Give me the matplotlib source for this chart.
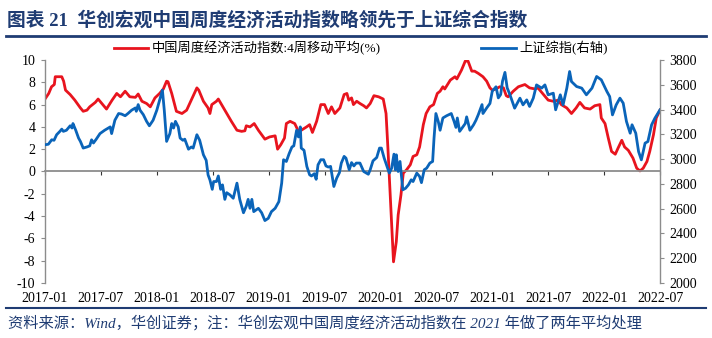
import matplotlib.pyplot as plt
from matplotlib.lines import Line2D
from matplotlib.transforms import blended_transform_factory

plt.rcParams['font.family'] = ['Liberation Serif', 'Noto Sans CJK SC']
plt.rcParams['axes.unicode_minus'] = False

# 月份偏移（以 2017-01 为 0）
red_t = [0, 0.4, 0.7, 1.0, 1.1, 1.8, 2.0, 2.2, 2.7, 3.2, 3.8, 4.1, 4.5, 4.8, 5.4, 5.7,
         6.1, 6.6, 7.2, 7.7, 8.1, 8.6, 9.1, 9.7, 10.0, 10.4, 10.9, 11.3, 11.8, 12.3, 12.7,
         13.05, 13.2, 13.6, 14.1, 14.7, 15.2, 15.7, 16.3, 16.5, 17.0, 17.5, 17.7, 17.9,
         18.4, 18.6, 18.95, 19.5, 20.0, 20.6, 21.1, 21.45, 21.6, 22.0, 22.45, 22.9, 23.6,
         24.1, 24.7, 24.96, 25.3, 25.7, 25.9, 26.3, 26.8, 27.2, 27.5, 28.07, 28.4, 28.7,
         29.15, 29.6, 30.0, 30.4, 30.75, 31.1, 31.65, 32.1, 32.4, 32.6, 32.9, 33.1, 33.45,
         33.8, 34.2, 34.5, 34.9, 35.3, 35.8, 36.3, 36.6, 36.8, 37.1, 37.4, 37.7, 37.9,
         38.2, 38.45, 38.8, 39.2, 39.5, 39.9, 40.2, 40.6, 40.9, 41.3, 41.7, 42.1, 42.4,
         42.7, 42.9, 43.5, 44.0, 44.2, 44.7, 45.1, 45.4, 45.8, 46.1, 46.5, 47.0, 47.4,
         47.75, 48.0, 48.4, 48.8, 49.2, 49.5, 49.7, 50.25, 50.8, 51.5, 52.0, 52.6, 52.9,
         53.5, 54.0, 54.55, 55.1, 55.4, 56.0, 56.5, 57.0, 57.4, 57.9, 58.5, 59.0, 59.55,
         59.7, 60.1, 60.45, 60.8, 61.2, 61.5, 61.9, 62.2, 62.6, 63.1, 63.5, 63.85, 64.2,
         64.6, 64.9, 65.3, 65.6, 66.0]
red_v = [6.5, 7.0, 7.6, 7.8, 8.5, 8.5, 8.1, 7.3, 6.9, 6.4, 5.7, 5.4, 5.5, 5.8, 6.2, 6.5,
         6.1, 5.6, 6.4, 7.0, 6.7, 7.2, 6.7, 6.65, 6.95, 6.3, 6.1, 5.8, 6.6, 7.0, 7.4,
         8.1, 8.05, 7.0, 5.4, 5.2, 5.5, 6.4, 7.5, 7.3, 6.3, 5.7, 5.2, 6.0,
         6.3, 6.5, 6.0, 5.2, 4.5, 3.7, 3.6, 3.65, 4.1, 4.0, 4.3, 3.7, 2.9,
         3.1, 3.2, 2.0, 2.4, 3.0, 4.3, 4.5, 4.3, 3.6, 3.7, 4.0, 4.2, 3.5,
         4.5, 6.0, 6.0, 5.2, 5.8, 5.2, 5.7, 6.9, 7.0, 6.4, 6.6, 6.0, 6.3,
         6.1, 5.9, 5.7, 6.1, 6.8, 6.7, 6.5, 5.2, 2.1, -3.0, -8.1, -6.3, -3.9,
         -2.1, -0.15, 0.15, 0.6, 1.35, 1.5, 2.2, 4.2, 5.2, 5.8, 6.0, 7.0, 7.2,
         7.6, 7.4, 8.2, 8.5, 8.3, 9.1, 9.9, 9.9, 9.0, 9.0, 8.8, 8.5, 8.1,
         7.5, 7.3, 7.4, 7.6, 7.5, 6.8, 6.7, 7.2, 7.6, 7.8, 7.5, 7.4, 7.5,
         6.9, 6.4, 6.3, 6.4, 6.0, 5.7, 5.2, 5.7, 6.2, 5.7, 5.6, 5.9, 6.0,
         4.8, 4.3, 3.0, 1.8, 1.55, 2.1, 2.8, 2.2, 1.9, 1.2, 0.3, 0.05, 0.3,
         0.9, 1.8, 3.3, 4.8, 5.5]

blue_t = [0, 0.36, 0.72, 0.97, 1.25, 1.6, 1.8, 1.97, 2.3, 2.7, 2.9, 3.0, 3.3, 3.6, 3.8,
          4.1, 4.5, 4.8, 5.0, 5.2, 5.5, 5.9, 6.4, 7.0, 7.15, 7.5, 7.9, 8.2, 8.6, 8.9,
          9.3, 9.7, 9.8, 10.0, 10.2, 10.55, 10.9, 11.2, 11.6, 12.0, 12.3, 12.6, 12.8,
          13.05, 13.4, 13.6, 13.8, 14.0, 14.3, 14.5, 14.8, 15.0, 15.4, 15.7, 15.9, 16.3,
          16.6, 17.0, 17.3, 17.5, 17.7, 17.95, 18.1, 18.4, 18.6, 18.85, 19.05, 19.3,
          19.5, 19.85, 20.2, 20.6, 20.9, 21.3, 21.6, 21.8, 22.0, 22.2, 22.4, 22.9,
          23.25, 23.6, 23.96, 24.3, 24.7, 25.1, 25.4, 25.6, 25.9, 26.2, 26.5, 26.7,
          27.0, 27.2, 27.4, 27.5, 27.8, 28.1, 28.4, 28.6, 28.9, 29.1, 29.3, 29.6, 29.9,
          30.15, 30.4, 30.65, 31.0, 31.3, 31.6, 31.8, 32.1, 32.3, 32.65, 32.9, 33.15,
          33.4, 33.8, 34.2, 34.7, 34.9, 35.2, 35.6, 35.9, 36.1, 36.4, 36.7, 36.95,
          37.2, 37.45, 37.6, 37.7, 37.9, 38.1, 38.4, 38.7, 39.0, 39.3, 39.5, 39.9,
          40.2, 40.4, 40.7, 40.96, 41.3, 41.6, 41.75, 41.95, 42.2, 42.4, 42.7, 43.1,
          43.6, 43.9, 44.1, 44.25, 44.5, 44.8, 45.1, 45.25, 45.6, 46.0, 46.25, 46.5,
          46.9, 47.0, 47.4, 47.75, 48.0, 48.4, 48.65, 48.9, 49.1, 49.36, 49.6, 49.9,
          50.4, 50.97, 51.3, 51.7, 52.0, 52.4, 52.75, 53.3, 53.65, 54.0, 54.55, 54.8,
          55.3, 55.6, 56.0, 56.3, 56.5, 57.05, 57.6, 58.1, 58.7, 59.2, 59.7, 60.3,
          60.6, 60.9, 61.3, 61.7, 62.05, 62.4, 62.8, 63.0, 63.4, 63.7, 64.0, 64.4,
          64.7, 65.1, 65.45, 66.0]
blue_v = [3116, 3120, 3156, 3152, 3197, 3224, 3242, 3224, 3233, 3269, 3251, 3287, 3233, 3170, 3143,
          3089, 3098, 3107, 3156, 3130, 3161, 3206, 3233, 3260, 3206, 3314, 3368, 3364, 3350, 3368,
          3395, 3413, 3386, 3440, 3395, 3359, 3305, 3269, 3314, 3395, 3476, 3557, 3395,
          3143, 3206, 3287, 3251, 3305, 3260, 3170, 3152, 3161, 3080, 3098, 3089, 3197,
          3152, 3035, 2990, 2873, 2832, 2756, 2819, 2819, 2864, 2756, 2792, 2675,
          2729, 2711, 2684, 2806, 2675, 2567, 2621, 2675, 2603, 2675, 2576, 2603,
          2567, 2504, 2522, 2576, 2603, 2657, 2806, 2995, 2981, 3044, 3098, 3107,
          3233, 3179, 3260, 3089, 3071, 2941, 2873, 2864, 2882, 2837, 2954, 2995, 2995,
          2945, 2936, 2941, 2779, 2846, 2891, 2968, 3022, 3008, 2914, 2972, 2945,
          2968, 2968, 2900, 2878, 2914, 2986, 3013, 3089, 3089, 3008, 2941, 2887,
          2927, 3040, 2914, 3035, 2900, 2981, 2752, 2765, 2792, 2833, 2819, 2887,
          2860, 2810, 2914, 2927, 2968, 2981, 3170, 3368, 3305, 3233, 3332, 3350,
          3368, 3305, 3256, 3332, 3224, 3256, 3287, 3341, 3233, 3278, 3314, 3359,
          3440, 3368, 3413, 3449, 3548, 3584, 3494, 3521, 3629, 3700, 3575, 3519,
          3411, 3492, 3438, 3478, 3425, 3492, 3599, 3573, 3599, 3519, 3532, 3398,
          3519, 3438, 3573, 3707, 3626, 3586, 3573, 3519, 3573, 3667, 3640, 3546,
          3505, 3357, 3438, 3492, 3452, 3304, 3209, 3277, 3209, 3061, 2994, 3129,
          3142, 3277, 3330, 3398]

tick_m = list(range(0, 67, 6))
tick_lbl = [f'{2017 + m // 12}-{m % 12 + 1:02d}' for m in tick_m]

navy = '#1F3C73'
grey = '#8C8C8C'

fig = plt.figure(figsize=(7.12, 3.38), dpi=100)
ax = fig.add_axes([45 / 712, 1 - 283 / 338, 615 / 712, 223 / 338])
ax2 = ax.twinx()

l1, = ax.plot(red_t, red_v, color='#E8141E', lw=2.0, label='中国周度经济活动指数:4周移动平均(%)')
l2, = ax2.plot(blue_t, blue_v, color='#0A64B9', lw=2.0, label='上证综指(右轴)')

ax.set_xlim(0, 66)
ax.set_ylim(-10, 10)
ax2.set_ylim(2000, 3800)
ax.set_yticks(range(-10, 11, 2))
ax2.set_yticks(range(2000, 3801, 200))

for a in (ax, ax2):
    a.spines['top'].set_visible(False)
    for s in a.spines.values():
        s.set_color(grey)
        s.set_linewidth(1.0)
ax.spines['right'].set_visible(False)
ax2.spines['left'].set_visible(False)
ax2.spines['bottom'].set_visible(False)
ax.spines['bottom'].set_position(('data', 0))
ax.spines['bottom'].set_linewidth(1.3)

ax.set_xticks(tick_m)
ax.tick_params(axis='x', direction='out', length=3, color='#333333', labelbottom=False)
ax.tick_params(axis='y', direction='out', length=3, color=grey, labelsize=10, pad=4)
ax2.tick_params(axis='y', direction='out', length=3, color=grey, labelsize=10, pad=4)

trans = blended_transform_factory(ax.transData, ax.transAxes)
for m, s in zip(tick_m, tick_lbl):
    ax.text(m, -0.068, s, transform=trans, ha='center', va='center', fontsize=10)

fig.legend(handles=[l1, l2], loc='center', bbox_to_anchor=(361 / 712, 1 - 48 / 338),
           ncol=2, frameon=False, fontsize=9.5, handlelength=2.6, handletextpad=0.3,
           columnspacing=7.6, borderpad=0)

fig.text(7 / 712, 1 - 20 / 338, '图表 21  华创宏观中国周度经济活动指数略领先于上证综合指数',
         color=navy, fontsize=13.5, fontweight='bold', va='center', ha='left')
fig.add_artist(Line2D([6 / 712, 706 / 712], [1 - 36 / 338] * 2, color=navy, lw=2))
fig.add_artist(Line2D([6 / 712, 706 / 712], [1 - 308 / 338] * 2, color=navy, lw=1.5))
fig.text(8 / 712, 1 - 323 / 338, '资料来源：Wind，华创证券；注：华创宏观中国周度经济活动指数在 2021 年做了两年平均处理',
         color=navy, fontsize=11, style='italic', va='center', ha='left')

fig.savefig('out.png', dpi=100)
